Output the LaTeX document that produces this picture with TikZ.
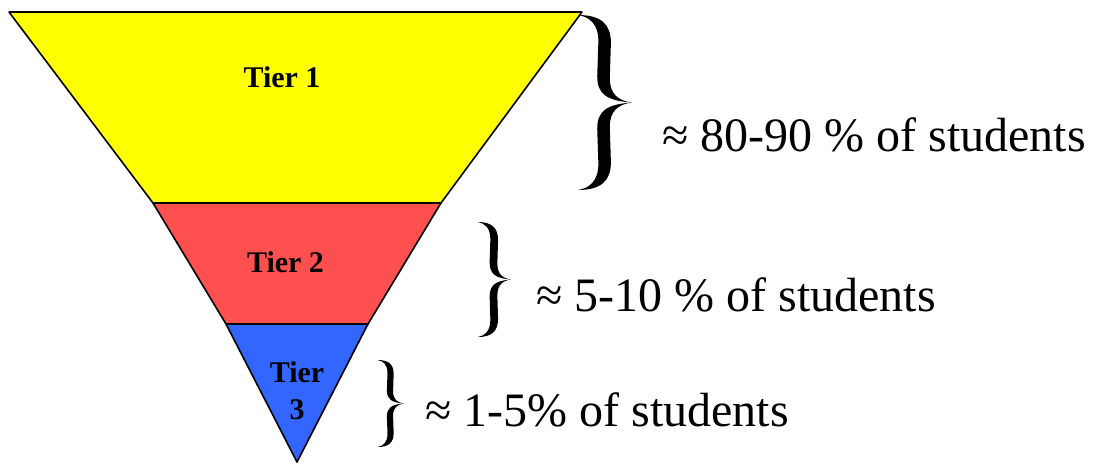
\documentclass[tikz,border=0pt]{standalone}
\usepackage{fontspec}
\setmainfont{Liberation Serif}
\definecolor{tyellow}{RGB}{255,255,0}
\definecolor{tred}{RGB}{255,80,80}
\definecolor{tblue}{RGB}{51,102,255}
\newcommand{\bracefill}{%
  \fill (0.05,0) .. controls (0.45,0.0) and (0.63,0.05) .. (0.63,0.16)
    -- (0.61,0.36) .. controls (0.61,0.45) and (0.75,0.49) .. (1.0,0.5)
    .. controls (0.55,0.49) and (0.39,0.45) .. (0.39,0.35)
    -- (0.41,0.15) .. controls (0.41,0.05) and (0.25,0.01) .. (0.05,0) -- cycle;
  \fill (0.05,1) .. controls (0.45,1.0) and (0.63,0.95) .. (0.63,0.84)
    -- (0.61,0.64) .. controls (0.61,0.55) and (0.75,0.51) .. (1.0,0.5)
    .. controls (0.55,0.51) and (0.39,0.55) .. (0.39,0.65)
    -- (0.41,0.85) .. controls (0.41,0.95) and (0.25,0.99) .. (0.05,1) -- cycle;}
\tikzset{
  band/.style={draw=black, line width=1.6pt, line join=round},
  tierlabel/.style={font=\fontsize{30}{37}\selectfont\bfseries, inner sep=0pt},
  pct/.style={font=\fontsize{48}{58}\selectfont, inner sep=0pt, anchor=base west},
}
\begin{document}
\begin{tikzpicture}[x=1pt,y=-1pt]
\useasboundingbox (0,0) rectangle (1095,464);
\draw[band, fill=tyellow] (9,12) -- (582,12) -- (441,203) -- (153,203) -- cycle;
\draw[band, fill=tred] (153,203) -- (441,203) -- (368,324) -- (226,324) -- cycle;
\draw[band, fill=tblue] (226,324) -- (368,324) -- (297,462) -- cycle;
\node[tierlabel, anchor=base] (t1) at (282,87) {Tier 1};
\node[tierlabel, anchor=base] (t2) at (285.5,272) {Tier 2};
\node[tierlabel, anchor=center, align=center] (t3) at (297,391) {Tier\\3};
\begin{scope}[shift={(575,15)}, xscale=57, yscale=175]\bracefill\end{scope}
\begin{scope}[shift={(476,222)}, xscale=35, yscale=115]\bracefill\end{scope}
\begin{scope}[shift={(376,360)}, xscale=28, yscale=87]\bracefill\end{scope}
\node[pct] (p1) at (662,151) {≈ 80-90 \% of students};
\node[pct] (p2) at (536,311) {≈ 5-10 \% of students};
\node[pct] (p3) at (425,426) {≈ 1-5\% of students};
\end{tikzpicture}
\end{document}
